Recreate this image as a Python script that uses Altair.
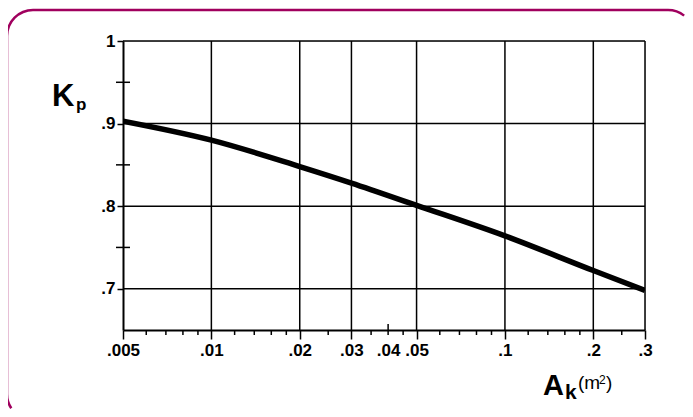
import altair as alt
import pandas as pd
import math

# Curve
area = [0.005, 0.01, 0.02, 0.03, 0.05, 0.1, 0.2, 0.3]
kp = [0.903, 0.880, 0.848, 0.828, 0.801, 0.764, 0.722, 0.698]

# Axis / grid values
x_labels = [0.005, 0.01, 0.02, 0.03, 0.04, 0.05, 0.1, 0.2, 0.3]
x_grid = [0.01, 0.02, 0.03, 0.05, 0.1, 0.2, 0.3]
x_minor = [0.006, 0.007, 0.008, 0.009, 0.012, 0.014, 0.016, 0.018, 0.025,
           0.035, 0.045, 0.06, 0.07, 0.08, 0.09, 0.12, 0.14, 0.16, 0.18, 0.25]
x_mid = [0.04]
y_grid = [0.7, 0.8, 0.9, 1.0]
y_minor = [0.75, 0.85, 0.95]

W, H = 522, 289
FONT = "Liberation Sans"
FRAME = "#a0005e"

xs = alt.Scale(type="log", domain=[0.005, 0.3], nice=False)
ys = alt.Scale(domain=[0.65, 1.0], nice=False, zero=False)
lab = "replace(format(datum.value, '~g'), '0.', '.')"

curve_df = pd.DataFrame({"A": area, "K": kp})

xaxis = alt.Axis(values=x_labels, labelExpr=lab, title=None, grid=False,
                 labelFont=FONT, labelFontWeight="bold", labelFontSize=17,
                 labelColor="black", labelPadding=3, labelFlush=False,
                 labelOverlap=False, tickColor="black", tickWidth=1.5, tickSize=9,
                 tickOpacity={"condition": {"test": "abs(datum.value - 0.04) < 0.001", "value": 0}, "value": 1},
                 domainColor="black", domainWidth=2)
yaxis = alt.Axis(values=y_grid, labelExpr=lab, title=None, grid=False,
                 labelFont=FONT, labelFontWeight="bold", labelFontSize=17,
                 labelColor="black", labelPadding=2, labelOverlap=False,
                 tickColor="black", tickWidth=1.5, tickSize=6,
                 domainColor="black", domainWidth=2)

xgrid = alt.Chart(pd.DataFrame({"x": x_grid})).mark_rule(color="black", strokeWidth=1.5).encode(
    x=alt.X("x:Q", scale=xs, axis=xaxis))
ygrid = alt.Chart(pd.DataFrame({"y": y_grid})).mark_rule(color="black", strokeWidth=1.5).encode(
    y=alt.Y("y:Q", scale=ys, axis=yaxis))
xmin = alt.Chart(pd.DataFrame({"x": x_minor})).mark_rule(color="black", strokeWidth=1.5).encode(
    x=alt.X("x:Q", scale=xs), y=alt.value(H), y2=alt.value(H + 5))
xmid = alt.Chart(pd.DataFrame({"x": x_mid})).mark_rule(color="black", strokeWidth=1.5).encode(
    x=alt.X("x:Q", scale=xs), y=alt.value(H - 6), y2=alt.value(H + 5))
ymin = alt.Chart(pd.DataFrame({"y": y_minor})).mark_rule(color="black", strokeWidth=1.5).encode(
    y=alt.Y("y:Q", scale=ys), x=alt.value(-7), x2=alt.value(7))

line = alt.Chart(curve_df).mark_line(color="black", strokeWidth=5.5, interpolate="monotone", clip=True).encode(
    x=alt.X("A:Q", scale=xs), y=alt.Y("K:Q", scale=ys))


def txt(s, x, y, size, weight="bold"):
    return alt.Chart(pd.DataFrame({"t": [s]})).mark_text(
        font=FONT, fontSize=size, fontWeight=weight, align="left",
        baseline="alphabetic", color="black").encode(
        text="t:N", x=alt.value(x), y=alt.value(y))


labels = [
    txt("K", -71, 65, 31),
    txt("p", -47, 69, 17),
    txt("A", 420, 354, 29),
    txt("k", 442, 358, 21),
    txt("(m", 455, 348, 19, "normal"),
    txt("2", 476, 343, 12, "normal"),
    txt(")", 483, 348, 19, "normal"),
]

# Decorative rounded frame (cut off at the right and bottom edges, like the original)
one = pd.DataFrame({"o": [0]})
L, T, R0 = -116, -31, 26
cx_l, cx_r, cy_t, cy_b = L + R0, 545, T + R0, 353
SW = 2.5


def frame_rule(**enc):
    return alt.Chart(one).mark_rule(color=FRAME, strokeWidth=SW).encode(**enc)


def frame_arc(cx, cy, t0, t1):
    return alt.Chart(one).mark_arc(
        color=FRAME, theta=t0, theta2=t1,
        radius=R0 + SW / 2, radius2=R0 - SW / 2).encode(
        x=alt.value(cx), y=alt.value(cy))


frame = [
    frame_rule(x=alt.value(cx_l), x2=alt.value(cx_r), y=alt.value(T)),
    frame_rule(x=alt.value(L), y=alt.value(cy_t), y2=alt.value(cy_b)),
    frame_arc(cx_l, cy_t, 1.5 * math.pi, 2 * math.pi),
    frame_arc(cx_r, cy_t, 0, 0.67),
    frame_arc(cx_l, cy_b, 4.13, 1.5 * math.pi),
]

chart = alt.layer(xgrid, ygrid, xmin, xmid, ymin, line, *labels, *frame).properties(
    width=W, height=H,
    autosize=alt.AutoSizeParams(type="none"),
    padding={"left": 115, "top": 33, "right": 40, "bottom": 79},
).configure_view(stroke=None).configure(background="white")

chart.save("out.html", embed_options={"renderer": "svg", "actions": False})
